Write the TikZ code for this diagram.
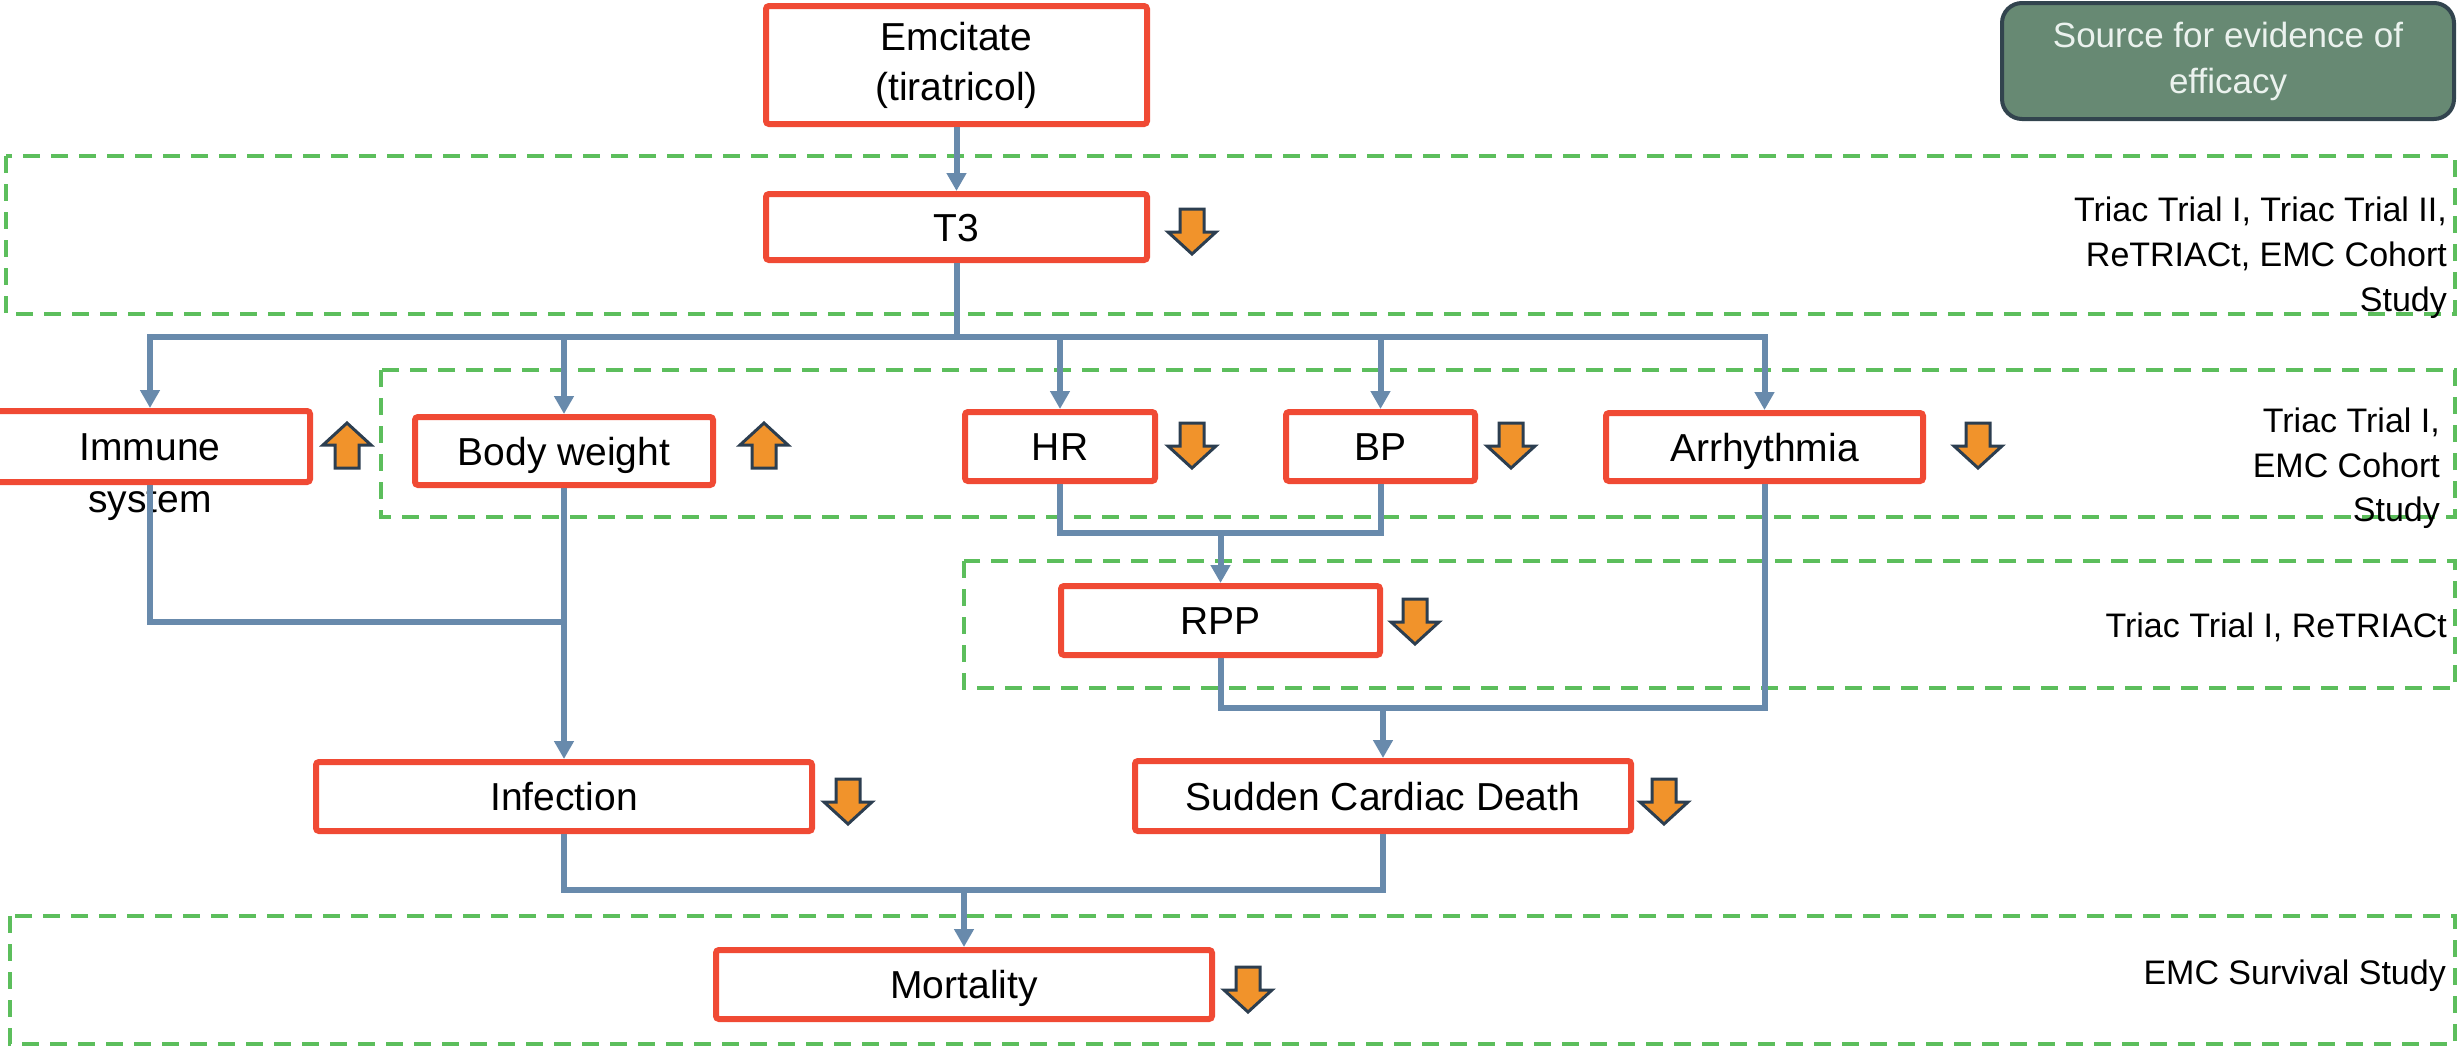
\documentclass[tikz,border=0pt]{standalone}
\usepackage{fontspec}
\setmainfont{Liberation Sans}
\usetikzlibrary{arrows.meta}
\definecolor{boxred}{RGB}{240,74,52}
\definecolor{connblue}{RGB}{104,138,172}
\definecolor{bandgreen}{RGB}{92,190,92}
\definecolor{iconorange}{RGB}{241,147,43}
\definecolor{icondark}{RGB}{44,62,80}
\definecolor{srcfill}{RGB}{103,137,115}
\definecolor{srcedge}{RGB}{50,68,78}
\definecolor{srctext}{RGB}{235,242,238}
\newcommand\boxfont{\fontsize{39}{50}\selectfont}
\newcommand\notefont{\fontsize{34}{45}\selectfont}
\newcommand\srcfont{\fontsize{35}{46}\selectfont}
\tikzset{
  boxbase/.style={draw=boxred, line width=6pt, rounded corners=3pt, fill=white,
    inner sep=0pt, font=\boxfont, align=center},
  box/.style={boxbase, text height=28pt, text depth=0pt},
  conn/.style={draw=connblue, line width=6pt},
  flow/.style={conn, -{Triangle[width=19pt,length=18pt]}},
  band/.style={draw=bandgreen, line width=4pt, dash pattern=on 17pt off 11pt},
  note/.style={font=\notefont, anchor=base east, inner sep=0pt},
  icon/.style={fill=iconorange, draw=icondark, line width=3pt, line join=miter},
  downicon/.pic={\path[icon] (-12,0) -- (12,0) -- (12,23) -- (24,23) -- (0,45) -- (-24,23) -- (-12,23) -- cycle;},
  upicon/.pic={\path[icon] (0,0) -- (24,22) -- (12,22) -- (12,45) -- (-12,45) -- (-12,22) -- (-24,22) -- cycle;}
}
\begin{document}
\begin{tikzpicture}[x=1pt,y=-1pt]
\useasboundingbox (0,0) rectangle (2458,1047);
% evidence bands
\draw[band] (6,156) rectangle (2455,314);
\draw[band] (381,370) rectangle (2455,517);
\draw[band] (964,561) rectangle (2455,688);
\draw[band] (10,916) rectangle (2455,1044);
% source header
\node[draw=srcedge, line width=4pt, fill=srcfill, rounded corners=20pt,
  minimum width=452pt, minimum height=116pt, inner sep=0pt, align=center,
  font=\srcfont, text=srctext] (src) at (2228,61)
  {Source for evidence of\\efficacy};
% evidence notes
\node[note] (n1a) at (2447,221) {Triac Trial I, Triac Trial II,};
\node[note] (n1b) at (2447,266) {ReTRIACt, EMC Cohort};
\node[note] (n1c) at (2447,311) {Study};
\node[note] (n2a) at (2440,432) {Triac Trial I,};
\node[note] (n2b) at (2440,477) {EMC Cohort};
\node[note] (n2c) at (2440,521) {Study};
\node[note] (n3a) at (2447,637) {Triac Trial I, ReTRIACt};
\node[note] (n4a) at (2446,984) {EMC Survival Study};
% boxes
\node[boxbase, minimum width=381pt, minimum height=118pt] (emc) at (956.5,65) {Emcitate\\(tiratricol)};
\node[box, minimum width=381pt, minimum height=66pt] (t3) at (956.5,227) {T3};
\node[box, minimum width=320pt, minimum height=71pt] (imm) at (150,446.5) {Immune};
\node[font=\boxfont, anchor=base, inner sep=0pt] (immb) at (150,512) {system};
\node[box, minimum width=298pt, minimum height=68pt] (bw) at (564,451) {Body weight};
\node[box, minimum width=190pt, minimum height=69pt] (hr) at (1060,446.5) {HR};
\node[box, minimum width=189pt, minimum height=69pt] (bp) at (1380.5,446.5) {BP};
\node[box, minimum width=317pt, minimum height=68pt] (arr) at (1764.5,447) {Arrhythmia};
\node[box, minimum width=319pt, minimum height=69pt] (rpp) at (1220.5,620.5) {RPP};
\node[box, minimum width=496pt, minimum height=69pt] (inf) at (564,796.5) {Infection};
\node[box, minimum width=496pt, minimum height=70pt] (scd) at (1383,796) {Sudden Cardiac Death};
\node[box, minimum width=496pt, minimum height=69pt] (mort) at (964,984.5) {Mortality};
% connectors
\draw[flow] (emc.south) -- (t3.north);
\coordinate (bus) at (956.5,337);
\draw[conn] (t3.south) -- (bus);
\draw[flow] (bus) -| (imm.north);
\draw[flow] (bus) -| (bw.north);
\draw[flow] (bus) -| (hr.north);
\draw[flow] (bus) -| (bp.north);
\draw[flow] (bus) -| (arr.north);
\coordinate (j1) at (564,622);
\draw[conn] (imm.south) |- (j1);
\draw[flow] (bw.south) -- (inf.north);
\coordinate (j2) at (1220.5,533);
\draw[conn] (hr.south) |- (j2) -| (bp.south);
\draw[flow] (j2) -- (rpp.north);
\coordinate (j3) at (1383,708);
\draw[conn] (rpp.south) |- (j3) -| (arr.south);
\draw[flow] (j3) -- (scd.north);
\coordinate (j4) at (964,890);
\draw[conn] (inf.south) |- (j4) -| (scd.south);
\draw[flow] (j4) -- (mort.north);
% direction icons
\pic at (1192,209) {downicon};
\pic at (347,423) {upicon};
\pic at (764,423) {upicon};
\pic at (1192,423) {downicon};
\pic at (1511,423) {downicon};
\pic at (1978,423) {downicon};
\pic at (1415,599) {downicon};
\pic at (848,779) {downicon};
\pic at (1664,779) {downicon};
\pic at (1248,967) {downicon};
\end{tikzpicture}
\end{document}
